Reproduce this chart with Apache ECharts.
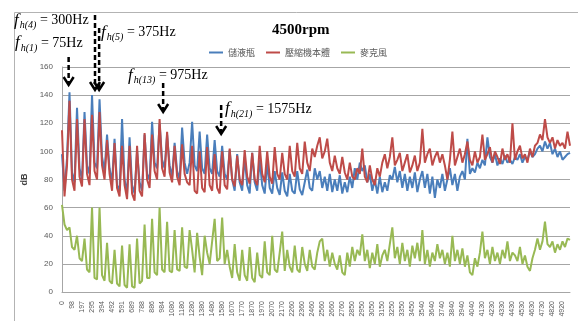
<!DOCTYPE html>
<html>
<head>
<meta charset="utf-8">
<script src="https://cdn.jsdelivr.net/npm/echarts@6/dist/echarts.min.js"></script>
<style>
  html, body { margin: 0; padding: 0; background: #fff; }
  #main { width: 578px; height: 321px; }
</style>
</head>
<body>
<div id="main"></div>
<script>
  // x 軸刻度（每 4 點一個標籤）
  var tickLabels = ['0','98','197','295','394','492','591','689','788','886','984','1080','1180','1280','1380','1480','1580',
    '1670','1770','1870','1970','2070','2170','2260','2360','2460','2560','2660','2760','2850','2950','3050','3150',
    '3250','3350','3450','3540','3640','3740','3840','3940','4040','4130','4230','4330','4430','4530','4630','4730','4820','4920'];
  var binHz = 98.4375 / 4;
  var seriesNames = ['儲液瓶', '壓縮機本體', '麥克風'];

  var bottleDb = [
    98,72,95,142,85,78,131,88,80,128,
    90,84,140,92,88,137,96,86,112,88,
    78,109,76,72,123,80,70,110,76,70,
    100,78,72,112,84,80,121,92,88,120,
    94,88,112,90,82,106,86,80,117,92,84,
    92,121,90,86,114,88,84,112,88,84,
    108,86,82,104,84,80,101,80,72,98,
    78,72,96,76,70,99,78,72,94,76,
    70,92,74,70,86,74,69,85,72,68,
    84,72,70,86,73,69,78,87,74,72,88,
    80,86,74,82,72,84,71,80,72,83,
    70,78,71,82,74,88,80,92,86,90,
    78,84,72,80,70,82,71,78,72,83,
    80,89,78,86,74,84,72,82,74,85,
    71,80,86,74,84,70,82,67,80,74,84,
    72,80,88,76,84,72,82,86,80,109,
    84,88,85,92,88,94,90,110,96,92,
    98,90,95,91,97,92,94,91,96,94,
    98,92,96,94,100,96,98,102,104,100,
    107,102,106,98,102,96,100,94,96,98,99
  ];
  var compressorDb = [
    115,68,90,136,80,72,123,82,75,123,
    84,76,126,86,80,128,90,80,108,84,
    72,106,74,68,104,76,66,104,70,65,
    104,72,68,113,80,74,112,86,80,123,
    88,82,114,85,78,104,82,76,105,84,78,
    76,104,72,70,100,74,71,103,76,72,
    98,74,70,100,76,73,102,80,75,97,
    80,76,101,82,77,99,80,76,104,84,
    78,100,82,77,103,84,80,99,84,80,
    104,86,82,106,88,84,107,92,86,102,96,
    104,110,95,100,109,92,86,97,88,84,
    96,85,80,92,82,80,88,84,102,82,
    78,90,80,76,88,82,92,98,88,96,
    110,90,94,99,86,92,98,85,90,97,
    86,92,116,92,98,102,90,96,100,92,98,
    90,80,94,114,90,96,102,92,98,107,
    94,90,100,92,96,112,94,98,103,92,
    100,96,91,102,94,98,92,120,94,100,
    104,95,98,92,102,96,104,106,112,108,
    123,110,106,110,102,108,104,106,102,114,104
  ];
  var micDb = [
    62,48,44,46,32,30,40,24,22,38,
    16,14,60,10,9,60,12,8,35,8,
    6,30,6,4,33,5,3,34,4,3,
    38,6,8,48,10,10,52,14,12,60,
    16,14,50,15,14,44,16,15,46,18,17,
    44,30,14,42,25,12,40,28,20,36,
    52,22,24,53,20,30,18,10,34,14,
    8,30,12,8,32,10,7,28,12,10,
    36,14,12,40,16,14,28,43,15,30,
    18,14,33,16,14,32,20,15,30,18,16,
    28,36,38,22,30,18,28,20,16,26,
    14,12,28,18,32,22,30,26,41,22,
    30,17,28,20,34,18,26,30,22,34,
    46,24,32,20,35,22,30,18,33,24,
    35,22,44,20,30,18,28,22,34,24,30,
    20,28,18,40,22,30,20,31,18,26,
    14,12,24,18,28,43,24,30,20,32,
    22,28,20,30,24,36,22,28,26,22,
    32,20,26,18,15,24,30,38,30,36,
    50,34,32,36,28,34,30,36,32,38,37
  ];

  // 諧波標註：文字位置與箭頭長度（像素）
  var notes = [
    {k: '4', hz: 300, tx: 14, ty: 10.5, top: 15, tip: 90, dx: 2.5},
    {k: '1', hz: 75, tx: 15, ty: 33, top: 57, tip: 85, dx: -1},
    {k: '5', hz: 375, tx: 101, ty: 22.5, top: 28, tip: 90, dx: -1},
    {k: '13', hz: 975, tx: 128, ty: 65.5, top: 83, tip: 112, dx: 2},
    {k: '21', hz: 1575, tx: 225, ty: 99, top: 105, tip: 134, dx: -1}
  ];

  var cats = bottleDb.map(function (v, i) { return String(i); });
  var colors = ['#4a7ebb', '#be4b48', '#98b954'];
  var gray = '#a6a6a6';

  var chart = echarts.init(document.getElementById('main'));
  var option = {
    animation: false,
    backgroundColor: '#fff',
    color: colors,
    title: {
      text: '4500rpm',
      left: 267,
      top: 18,
      textStyle: { fontFamily: 'Liberation Serif', fontWeight: 'bold', fontSize: 15, color: '#000' }
    },
    legend: {
      left: 204,
      top: 43,
      icon: 'rect',
      itemWidth: 14,
      itemHeight: 2,
      itemGap: 11,
      textStyle: { fontSize: 9, color: '#595959', fontFamily: 'Noto Sans CJK TC' },
      data: seriesNames
    },
    grid: { left: 62, right: 8, top: 67, bottom: 29 },
    xAxis: {
      type: 'category',
      boundaryGap: false,
      data: cats,
      axisLine: { lineStyle: { color: gray } },
      axisTick: { show: false },
      axisLabel: {
        interval: 3,
        rotate: 90,
        fontSize: 7,
        color: '#595959',
        fontFamily: 'Liberation Sans',
        margin: 9,
        formatter: function (v, idx) { return tickLabels[idx / 4] || ''; }
      }
    },
    yAxis: {
      type: 'value',
      min: 0,
      max: 160,
      interval: 20,
      name: 'dB',
      nameLocation: 'middle',
      nameRotate: 90,
      nameGap: 31,
      nameTextStyle: { fontSize: 9, fontWeight: 'bold', color: '#404040', fontFamily: 'Liberation Sans' },
      axisLine: { show: true, lineStyle: { color: gray } },
      axisTick: { show: false },
      axisLabel: { fontSize: 8, color: '#595959', margin: 9, fontFamily: 'Liberation Sans' },
      splitLine: { lineStyle: { color: gray } }
    },
    series: [
      { name: seriesNames[0], type: 'line', symbol: 'none', data: bottleDb, lineStyle: { width: 2 } },
      { name: seriesNames[1], type: 'line', symbol: 'none', data: compressorDb, lineStyle: { width: 2 } },
      { name: seriesNames[2], type: 'line', symbol: 'none', data: micDb, lineStyle: { width: 2 } }
    ]
  };
  chart.setOption(option);

  /* 外框與箭頭標註 */
  var x0 = chart.convertToPixel({xAxisIndex: 0}, 0);
  var x200 = chart.convertToPixel({xAxisIndex: 0}, 200);
  var graphics = [{
    type: 'rect', silent: true, z: -10,
    shape: { x: 14.5, y: 12.5, width: 700, height: 500 },
    style: { fill: null, stroke: '#b3b3b3', lineWidth: 1 }
  }];
  notes.forEach(function (n) {
    var x = x0 + (n.hz / binHz) * (x200 - x0) / 200 + n.dx;
    graphics.push({
      type: 'line', silent: true, z: 100,
      shape: { x1: x, y1: n.top, x2: x, y2: n.tip - 2 },
      style: { stroke: '#000', lineWidth: 2.5, lineDash: [5, 3] }
    });
    graphics.push({
      type: 'polyline', silent: true, z: 100,
      shape: { points: [[x - 5, n.tip - 8], [x, n.tip], [x + 5, n.tip - 8]] },
      style: { stroke: '#000', lineWidth: 2.5, fill: null }
    });
    graphics.push({
      type: 'text', silent: true, z: 100,
      x: n.tx, y: n.ty,
      style: {
        text: '{f|f}{s|h(' + n.k + ')}{e| = ' + n.hz + 'Hz}',
        verticalAlign: 'top',
        fill: '#000',
        rich: {
          f: { fontFamily: 'Liberation Serif', fontStyle: 'italic', fontSize: 17, lineHeight: 20 },
          s: { fontFamily: 'Liberation Serif', fontStyle: 'italic', fontSize: 10, lineHeight: 10, verticalAlign: 'bottom', padding: [0, 0, 0, 1] },
          e: { fontFamily: 'Liberation Serif', fontSize: 14, lineHeight: 20 }
        }
      }
    });
  });
  chart.setOption({ graphic: graphics });
</script>
</body>
</html>
